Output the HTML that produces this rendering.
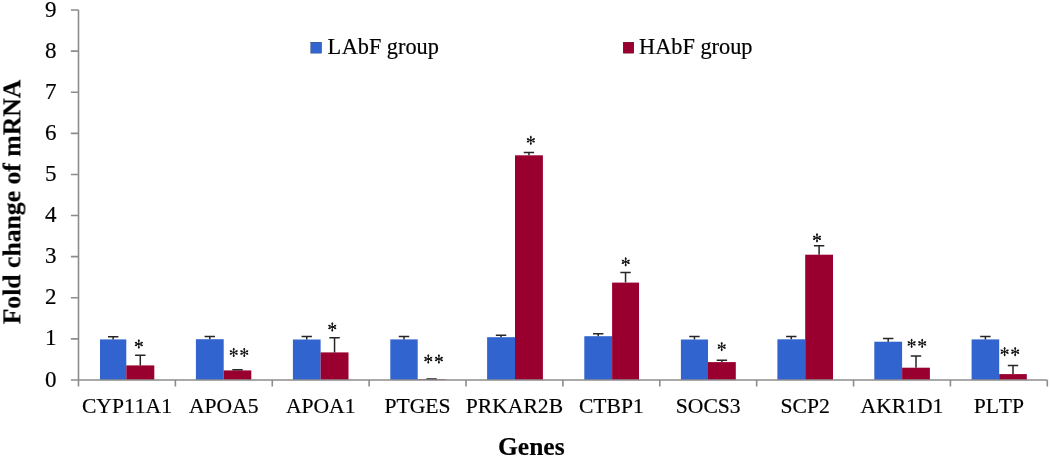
<!DOCTYPE html><html><head><meta charset="utf-8"><style>html,body{margin:0;padding:0;background:#fff;overflow:hidden}svg{display:block}text{font-family:"Liberation Serif",serif;font-kerning:none;}</style></head><body>
<svg width="1050" height="458" viewBox="0 0 1050 458">
<rect width="1050" height="458" fill="#fff"/>
<rect x="100.00" y="339.40" width="26.30" height="40.60" fill="#3264D0"/>
<rect x="126.30" y="365.40" width="28.00" height="14.60" fill="#990030"/>
<rect x="195.90" y="339.20" width="27.80" height="40.80" fill="#3264D0"/>
<rect x="223.70" y="370.40" width="27.60" height="9.60" fill="#990030"/>
<rect x="292.90" y="339.50" width="27.70" height="40.50" fill="#3264D0"/>
<rect x="320.60" y="352.40" width="27.90" height="27.60" fill="#990030"/>
<rect x="390.30" y="339.40" width="27.40" height="40.60" fill="#3264D0"/>
<rect x="417.70" y="379.30" width="27.70" height="0.70" fill="#990030"/>
<rect x="487.10" y="337.20" width="27.90" height="42.80" fill="#3264D0"/>
<rect x="515.00" y="155.30" width="27.90" height="224.70" fill="#990030"/>
<rect x="584.30" y="336.20" width="27.80" height="43.80" fill="#3264D0"/>
<rect x="612.10" y="282.60" width="26.90" height="97.40" fill="#990030"/>
<rect x="680.90" y="339.50" width="27.10" height="40.50" fill="#3264D0"/>
<rect x="708.00" y="362.10" width="27.80" height="17.90" fill="#990030"/>
<rect x="777.40" y="339.30" width="27.80" height="40.70" fill="#3264D0"/>
<rect x="805.20" y="254.70" width="27.80" height="125.30" fill="#990030"/>
<rect x="874.30" y="341.70" width="27.80" height="38.30" fill="#3264D0"/>
<rect x="902.10" y="367.70" width="27.80" height="12.30" fill="#990030"/>
<rect x="971.60" y="339.40" width="27.60" height="40.60" fill="#3264D0"/>
<rect x="999.20" y="374.10" width="27.60" height="5.90" fill="#990030"/>
<path d="M113.15 339.40V336.80M107.95 336.80H118.35M140.30 365.40V355.20M135.10 355.20H145.50M209.80 339.20V336.50M204.60 336.50H215.00M237.50 370.40V369.70M232.30 369.70H242.70M306.75 339.50V336.60M301.55 336.60H311.95M334.55 352.40V337.70M329.35 337.70H339.75M404.00 339.40V336.60M398.80 336.60H409.20M431.55 379.30V379.10M426.35 379.10H436.75M501.05 337.20V335.30M495.85 335.30H506.25M528.95 155.30V152.50M523.75 152.50H534.15M598.20 336.20V333.70M593.00 333.70H603.40M625.55 282.60V272.60M620.35 272.60H630.75M694.45 339.50V336.50M689.25 336.50H699.65M721.90 362.10V360.30M716.70 360.30H727.10M791.30 339.30V336.50M786.10 336.50H796.50M819.10 254.70V245.80M813.90 245.80H824.30M888.20 341.70V338.60M883.00 338.60H893.40M916.00 367.70V356.00M910.80 356.00H921.20M985.40 339.40V336.60M980.20 336.60H990.60M1013.00 374.10V365.60M1007.80 365.60H1018.20" stroke="#262626" stroke-width="1.5" fill="none"/>
<path d="M78.5 10.0V386.5" stroke="#8C8C8C" stroke-width="1.6" fill="none"/>
<path d="M70.9 380.0H1047.3" stroke="#8C8C8C" stroke-width="1.6" fill="none"/>
<path d="M70.9 338.89H78.5M70.9 297.78H78.5M70.9 256.67H78.5M70.9 215.56H78.5M70.9 174.44H78.5M70.9 133.33H78.5M70.9 92.22H78.5M70.9 51.11H78.5M70.9 10.00H78.5M175.38 380.0V386.5M272.26 380.0V386.5M369.14 380.0V386.5M466.02 380.0V386.5M562.90 380.0V386.5M659.78 380.0V386.5M756.66 380.0V386.5M853.54 380.0V386.5M950.42 380.0V386.5M1047.30 380.0V386.5" stroke="#8C8C8C" stroke-width="1.6" fill="none"/>
<g fill="#000" stroke="#000" stroke-width="0.2" style="will-change:transform">
<text x="56.5" y="386.50" font-size="23" text-anchor="end">0</text>
<text x="56.5" y="345.39" font-size="23" text-anchor="end">1</text>
<text x="56.5" y="304.28" font-size="23" text-anchor="end">2</text>
<text x="56.5" y="263.17" font-size="23" text-anchor="end">3</text>
<text x="56.5" y="222.06" font-size="23" text-anchor="end">4</text>
<text x="56.5" y="180.94" font-size="23" text-anchor="end">5</text>
<text x="56.5" y="139.83" font-size="23" text-anchor="end">6</text>
<text x="56.5" y="98.72" font-size="23" text-anchor="end">7</text>
<text x="56.5" y="57.61" font-size="23" text-anchor="end">8</text>
<text x="56.5" y="16.50" font-size="23" text-anchor="end">9</text>
<text x="126.94" y="412.8" font-size="21.6" text-anchor="middle">CYP11A1</text>
<text x="223.82" y="412.8" font-size="21.6" text-anchor="middle">APOA5</text>
<text x="320.70" y="412.8" font-size="21.6" text-anchor="middle">APOA1</text>
<text x="417.58" y="412.8" font-size="21.6" text-anchor="middle">PTGES</text>
<text x="514.46" y="412.8" font-size="21.6" text-anchor="middle">PRKAR2B</text>
<text x="611.34" y="412.8" font-size="21.6" text-anchor="middle">CTBP1</text>
<text x="708.22" y="412.8" font-size="21.6" text-anchor="middle">SOCS3</text>
<text x="805.10" y="412.8" font-size="21.6" text-anchor="middle">SCP2</text>
<text x="901.98" y="412.8" font-size="21.6" text-anchor="middle">AKR1D1</text>
<text x="998.86" y="412.8" font-size="21.6" text-anchor="middle">PLTP</text>
</g>
<path d="M138.80 339.85V348.15M135.20 342.50L142.40 345.50M135.20 345.50L142.40 342.50M233.70 348.35V356.65M230.10 351.00L237.30 354.00M230.10 354.00L237.30 351.00M244.30 348.35V356.65M240.70 351.00L247.90 354.00M240.70 354.00L247.90 351.00M332.30 322.85V331.15M328.70 325.50L335.90 328.50M328.70 328.50L335.90 325.50M428.30 354.85V363.15M424.70 357.50L431.90 360.50M424.70 360.50L431.90 357.50M438.90 354.85V363.15M435.30 357.50L442.50 360.50M435.30 360.50L442.50 357.50M530.80 136.15V144.45M527.20 138.80L534.40 141.80M527.20 141.80L534.40 138.80M625.70 257.65V265.95M622.10 260.30L629.30 263.30M622.10 263.30L629.30 260.30M721.70 342.45V350.75M718.10 345.10L725.30 348.10M718.10 348.10L725.30 345.10M817.00 233.65V241.95M813.40 236.30L820.60 239.30M813.40 239.30L820.60 236.30M911.60 339.25V347.55M908.00 341.90L915.20 344.90M908.00 344.90L915.20 341.90M922.20 339.25V347.55M918.60 341.90L925.80 344.90M918.60 344.90L925.80 341.90M1004.60 347.55V355.85M1001.00 350.20L1008.20 353.20M1001.00 353.20L1008.20 350.20M1015.20 347.55V355.85M1011.60 350.20L1018.80 353.20M1011.60 353.20L1018.80 350.20" stroke="#111" stroke-width="1.0" stroke-linecap="round" fill="none"/>
<g fill="#111"><circle cx="138.80" cy="340.85" r="1.0"/><circle cx="138.80" cy="347.15" r="1.0"/><circle cx="136.06" cy="342.86" r="1.0"/><circle cx="141.54" cy="345.14" r="1.0"/><circle cx="136.06" cy="345.14" r="1.0"/><circle cx="141.54" cy="342.86" r="1.0"/><circle cx="138.80" cy="344.00" r="0.75"/><circle cx="233.70" cy="349.35" r="1.0"/><circle cx="233.70" cy="355.65" r="1.0"/><circle cx="230.96" cy="351.36" r="1.0"/><circle cx="236.44" cy="353.64" r="1.0"/><circle cx="230.96" cy="353.64" r="1.0"/><circle cx="236.44" cy="351.36" r="1.0"/><circle cx="233.70" cy="352.50" r="0.75"/><circle cx="244.30" cy="349.35" r="1.0"/><circle cx="244.30" cy="355.65" r="1.0"/><circle cx="241.56" cy="351.36" r="1.0"/><circle cx="247.04" cy="353.64" r="1.0"/><circle cx="241.56" cy="353.64" r="1.0"/><circle cx="247.04" cy="351.36" r="1.0"/><circle cx="244.30" cy="352.50" r="0.75"/><circle cx="332.30" cy="323.85" r="1.0"/><circle cx="332.30" cy="330.15" r="1.0"/><circle cx="329.56" cy="325.86" r="1.0"/><circle cx="335.04" cy="328.14" r="1.0"/><circle cx="329.56" cy="328.14" r="1.0"/><circle cx="335.04" cy="325.86" r="1.0"/><circle cx="332.30" cy="327.00" r="0.75"/><circle cx="428.30" cy="355.85" r="1.0"/><circle cx="428.30" cy="362.15" r="1.0"/><circle cx="425.56" cy="357.86" r="1.0"/><circle cx="431.04" cy="360.14" r="1.0"/><circle cx="425.56" cy="360.14" r="1.0"/><circle cx="431.04" cy="357.86" r="1.0"/><circle cx="428.30" cy="359.00" r="0.75"/><circle cx="438.90" cy="355.85" r="1.0"/><circle cx="438.90" cy="362.15" r="1.0"/><circle cx="436.16" cy="357.86" r="1.0"/><circle cx="441.64" cy="360.14" r="1.0"/><circle cx="436.16" cy="360.14" r="1.0"/><circle cx="441.64" cy="357.86" r="1.0"/><circle cx="438.90" cy="359.00" r="0.75"/><circle cx="530.80" cy="137.15" r="1.0"/><circle cx="530.80" cy="143.45" r="1.0"/><circle cx="528.06" cy="139.16" r="1.0"/><circle cx="533.54" cy="141.44" r="1.0"/><circle cx="528.06" cy="141.44" r="1.0"/><circle cx="533.54" cy="139.16" r="1.0"/><circle cx="530.80" cy="140.30" r="0.75"/><circle cx="625.70" cy="258.65" r="1.0"/><circle cx="625.70" cy="264.95" r="1.0"/><circle cx="622.96" cy="260.66" r="1.0"/><circle cx="628.44" cy="262.94" r="1.0"/><circle cx="622.96" cy="262.94" r="1.0"/><circle cx="628.44" cy="260.66" r="1.0"/><circle cx="625.70" cy="261.80" r="0.75"/><circle cx="721.70" cy="343.45" r="1.0"/><circle cx="721.70" cy="349.75" r="1.0"/><circle cx="718.96" cy="345.46" r="1.0"/><circle cx="724.44" cy="347.74" r="1.0"/><circle cx="718.96" cy="347.74" r="1.0"/><circle cx="724.44" cy="345.46" r="1.0"/><circle cx="721.70" cy="346.60" r="0.75"/><circle cx="817.00" cy="234.65" r="1.0"/><circle cx="817.00" cy="240.95" r="1.0"/><circle cx="814.26" cy="236.66" r="1.0"/><circle cx="819.74" cy="238.94" r="1.0"/><circle cx="814.26" cy="238.94" r="1.0"/><circle cx="819.74" cy="236.66" r="1.0"/><circle cx="817.00" cy="237.80" r="0.75"/><circle cx="911.60" cy="340.25" r="1.0"/><circle cx="911.60" cy="346.55" r="1.0"/><circle cx="908.86" cy="342.26" r="1.0"/><circle cx="914.34" cy="344.54" r="1.0"/><circle cx="908.86" cy="344.54" r="1.0"/><circle cx="914.34" cy="342.26" r="1.0"/><circle cx="911.60" cy="343.40" r="0.75"/><circle cx="922.20" cy="340.25" r="1.0"/><circle cx="922.20" cy="346.55" r="1.0"/><circle cx="919.46" cy="342.26" r="1.0"/><circle cx="924.94" cy="344.54" r="1.0"/><circle cx="919.46" cy="344.54" r="1.0"/><circle cx="924.94" cy="342.26" r="1.0"/><circle cx="922.20" cy="343.40" r="0.75"/><circle cx="1004.60" cy="348.55" r="1.0"/><circle cx="1004.60" cy="354.85" r="1.0"/><circle cx="1001.86" cy="350.56" r="1.0"/><circle cx="1007.34" cy="352.84" r="1.0"/><circle cx="1001.86" cy="352.84" r="1.0"/><circle cx="1007.34" cy="350.56" r="1.0"/><circle cx="1004.60" cy="351.70" r="0.75"/><circle cx="1015.20" cy="348.55" r="1.0"/><circle cx="1015.20" cy="354.85" r="1.0"/><circle cx="1012.46" cy="350.56" r="1.0"/><circle cx="1017.94" cy="352.84" r="1.0"/><circle cx="1012.46" cy="352.84" r="1.0"/><circle cx="1017.94" cy="350.56" r="1.0"/><circle cx="1015.20" cy="351.70" r="0.75"/></g>
<g fill="#000" stroke="#000" stroke-width="0.2" style="will-change:transform">
<rect x="310.6" y="42.1" width="11.1" height="11.2" fill="#3264D0"/>
<text x="327.4" y="54" font-size="22.3">L<tspan dx="0.6">AbF group</tspan></text>
<rect x="623.1" y="42.1" width="10.8" height="11.2" fill="#990030"/>
<text x="639.1" y="54" font-size="22.3">HAbF group</text>
<text x="531.3" y="454.9" font-size="25.5" font-weight="bold" text-anchor="middle">Genes</text>
<text transform="translate(20.4 202) rotate(-90)" x="0" y="0" font-size="25.7" font-weight="bold" text-anchor="middle">Fold change of mRNA</text>
</g>
</svg></body></html>
